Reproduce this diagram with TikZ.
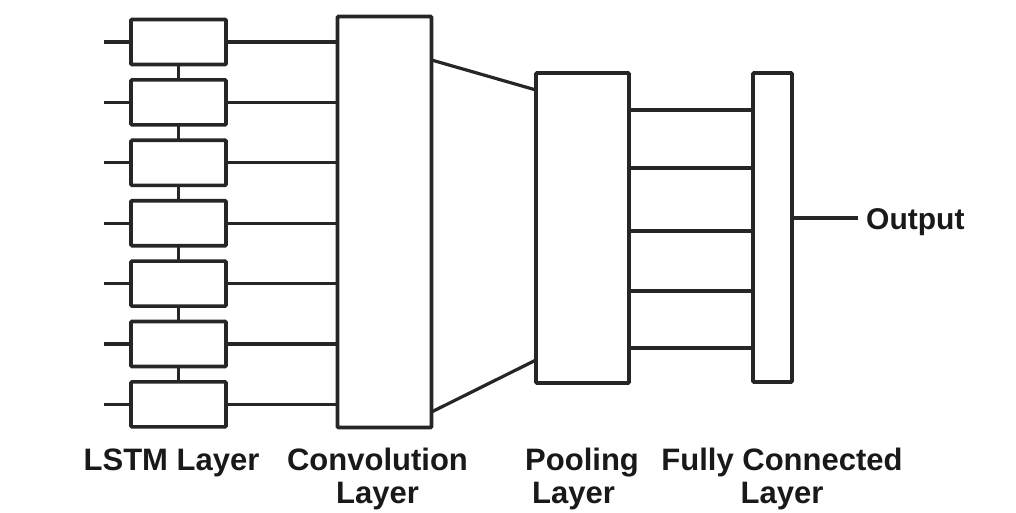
\documentclass[tikz,border=0pt]{standalone}
\usepackage{fontspec}
\setmainfont{Liberation Sans}
\usetikzlibrary{calc}
\begin{document}
\begin{tikzpicture}[x=1pt,y=-1pt,
  blk/.style={draw=black!85, line width=3.6pt, rounded corners=1pt, anchor=north west, inner sep=0pt, outer sep=0pt},
  wire/.style={draw=black!85, line width=3.2pt},
  lbl/.style={font=\fontsize{31}{33}\selectfont\bfseries, inner sep=0pt, anchor=base, text=black!90}
]
\useasboundingbox (0,0) rectangle (1016,513);
% LSTM cells
\foreach \i in {1,...,7}{
  \node[blk, minimum width=95pt, minimum height=45pt] (l\i) at (131, {19.5+60.4*(\i-1)}) {};
  \coordinate (in\i) at ($(l\i.west)+(-27,0)$);
  \draw[wire] (in\i) -- (l\i.west);
}
\foreach \i [evaluate=\i as \j using int(\i+1)] in {1,...,6}{
  \draw[wire] (l\i.south) -- (l\j.north);
}
% convolution layer
\node[blk, minimum width=94pt, minimum height=411pt] (conv) at (337.5,16.5) {};
\foreach \i in {1,...,7}{
  \draw[wire] (l\i.east) -- (l\i.east -| conv.west);
}
% pooling layer
\node[blk, minimum width=93pt, minimum height=310pt] (pool) at (536,73) {};
\coordinate (ct) at (0,60);
\coordinate (cb) at (0,412);
\coordinate (pt) at (0,90);
\coordinate (pb) at (0,360);
\draw[wire] (conv.east |- ct) -- (pool.west |- pt);
\draw[wire] (conv.east |- cb) -- (pool.west |- pb);
% fully connected layer
\node[blk, minimum width=39pt, minimum height=309pt] (fc) at (753,73) {};
\foreach \y [count=\k] in {110,168,231,291,348}{
  \coordinate (h\k) at (0,\y);
  \draw[wire] (pool.east |- h\k) -- (fc.west |- h\k);
}
% output
\coordinate (oy) at (0,218);
\coordinate (oend) at (858,218);
\draw[wire] (fc.east |- oy) -- (oend);
\node[lbl, anchor=west, font=\fontsize{30}{32}\selectfont\bfseries] (out) at (866,222) {Output};
% labels
\node[lbl] (t1) at (171.5,470) {LSTM Layer};
\node[lbl, align=center] (t2) at (377.5,503) {Convolution\\Layer};
\node[lbl, align=left, anchor=base west] (t3) at (525,503) {Pooling\\\hspace*{7pt}Layer};
\node[lbl, align=center] (t4) at (782,503) {Fully Connected\\Layer};
\end{tikzpicture}
\end{document}
